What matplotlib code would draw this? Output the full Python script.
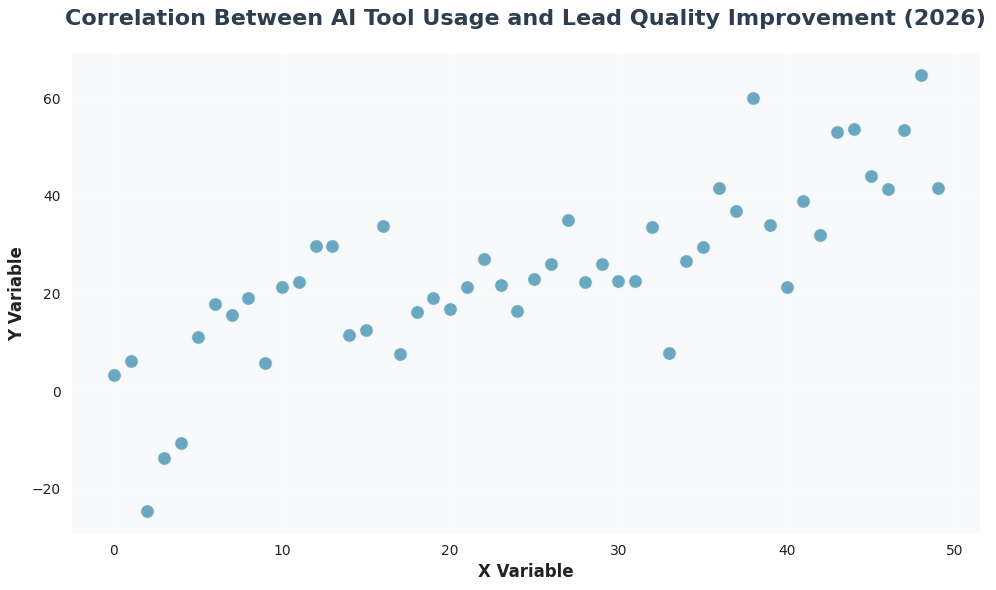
import matplotlib
matplotlib.use('Agg')
import matplotlib.pyplot as plt
import numpy as np

# Data
x_values = list(range(50))
y_values = [3.3, 6.2, -24.6, -13.6, -10.7, 11.1, 17.9, 15.6, 19.1, 5.7,
            21.4, 22.4, 29.8, 29.8, 11.5, 12.5, 33.9, 7.6, 16.2, 19.1,
            16.8, 21.4, 27.1, 21.8, 16.4, 23.0, 26.1, 35.1, 22.4, 26.1,
            22.6, 22.6, 33.7, 7.8, 26.7, 29.6, 41.7, 37.0, 60.0, 34.1,
            21.4, 39.0, 32.0, 53.0, 53.6, 44.1, 41.5, 53.4, 64.7, 41.7]
x_ticks = [0, 10, 20, 30, 40, 50]
y_ticks = [-20, 0, 20, 40, 60]

fig, ax = plt.subplots(figsize=(9.96, 5.9), dpi=100)
ax.set_facecolor('#f8f9fa')

ax.scatter(x_values, y_values, s=100, color='#2E86AB', alpha=0.7,
           edgecolors='white', linewidths=1, zorder=3)

ax.grid(True, color='white', linewidth=0.8, alpha=0.4, zorder=0)
for spine in ax.spines.values():
    spine.set_visible(False)
ax.tick_params(length=0, labelsize=10, colors='#222222', pad=8)
ax.set_xticks(x_ticks)
ax.set_yticks(y_ticks)
ax.set_xlim(-2.5, 51.5)
ax.set_ylim(-29, 69)

ax.set_title('Correlation Between AI Tool Usage and Lead Quality Improvement (2026)',
             fontsize=16, fontweight='bold', color='#2c3e50', pad=21)
ax.set_xlabel('X Variable', fontsize=12, fontweight='bold', color='#222222')
ax.set_ylabel('Y Variable', fontsize=12, fontweight='bold', color='#222222')

plt.subplots_adjust(left=0.072, right=0.984, top=0.908, bottom=0.097)
plt.savefig('out.png', dpi=100)
